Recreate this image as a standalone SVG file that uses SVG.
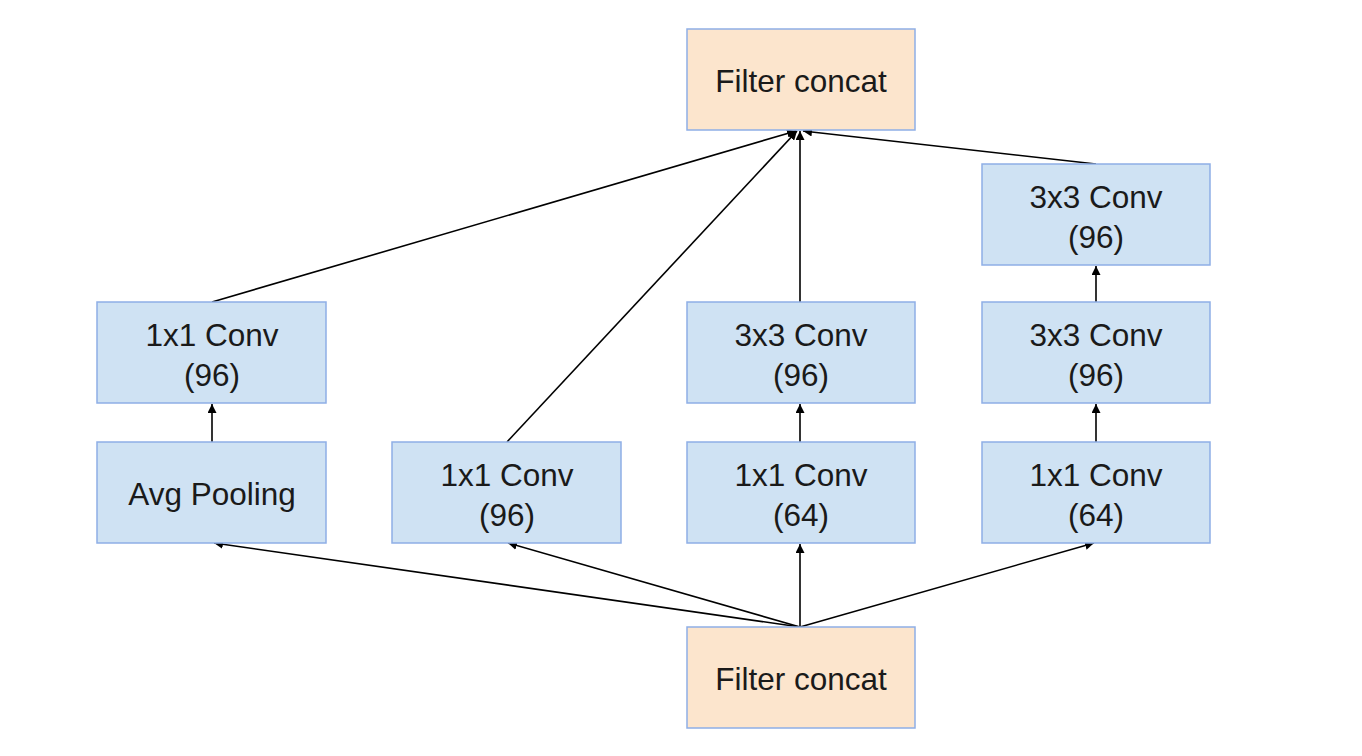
<svg xmlns="http://www.w3.org/2000/svg" width="1362" height="756" viewBox="0 0 1362 756">
<defs>
<marker id="ah" viewBox="0 0 10 10" refX="10" refY="5" markerWidth="9" markerHeight="9" markerUnits="userSpaceOnUse" orient="auto">
<path d="M0,0 L10,5 L0,10 z" fill="#000"/>
</marker>
<style>
.b{fill:#cfe2f3;stroke:#8eaee6;stroke-width:1.5}
.o{fill:#fce5cd;stroke:#8eaee6;stroke-width:1.5}
text{font-family:"Liberation Sans",Arial,sans-serif;font-size:31.5px;fill:#1a1a1a;text-anchor:middle}
.c line{stroke:#000;stroke-width:1.6;marker-end:url(#ah)}
</style>
</defs>
<rect width="1362" height="756" fill="#fff"/>
<g class="c" id="connectors">
<line x1="212" y1="302" x2="796" y2="131"/>
<line x1="507" y1="442" x2="797" y2="131"/>
<line x1="800" y1="302" x2="800" y2="131"/>
<line x1="1096" y1="164" x2="803" y2="131"/>
<line x1="212" y1="442" x2="212" y2="404"/>
<line x1="800" y1="442" x2="800" y2="404"/>
<line x1="1096" y1="442" x2="1096" y2="404"/>
<line x1="1096" y1="302" x2="1096" y2="266"/>
<line x1="800" y1="627" x2="214" y2="543"/>
<line x1="800" y1="627" x2="508" y2="543"/>
<line x1="800" y1="627" x2="800" y2="544"/>
<line x1="800" y1="627" x2="1094" y2="543"/>
</g>
<g id="concat_top"><rect class="o" x="687" y="29" width="228" height="101"/><text x="801" y="92">Filter concat</text></g>
<g id="c1_conv"><rect class="b" x="97" y="302" width="229" height="101"/><text x="212" y="346">1x1 Conv</text><text x="212" y="386">(96)</text></g>
<g id="c1_pool"><rect class="b" x="97" y="442" width="229" height="101"/><text x="212" y="505">Avg Pooling</text></g>
<g id="c2_conv"><rect class="b" x="392" y="442" width="229" height="101"/><text x="507" y="486">1x1 Conv</text><text x="507" y="526">(96)</text></g>
<g id="c3_conv3"><rect class="b" x="687" y="302" width="228" height="101"/><text x="801" y="346">3x3 Conv</text><text x="801" y="386">(96)</text></g>
<g id="c3_conv1"><rect class="b" x="687" y="442" width="228" height="101"/><text x="801" y="486">1x1 Conv</text><text x="801" y="526">(64)</text></g>
<g id="c4_conv3b"><rect class="b" x="982" y="164" width="228" height="101"/><text x="1096" y="208">3x3 Conv</text><text x="1096" y="248">(96)</text></g>
<g id="c4_conv3a"><rect class="b" x="982" y="302" width="228" height="101"/><text x="1096" y="346">3x3 Conv</text><text x="1096" y="386">(96)</text></g>
<g id="c4_conv1"><rect class="b" x="982" y="442" width="228" height="101"/><text x="1096" y="486">1x1 Conv</text><text x="1096" y="526">(64)</text></g>
<g id="concat_bottom"><rect class="o" x="687" y="627" width="228" height="101"/><text x="801" y="690">Filter concat</text></g>
</svg>
